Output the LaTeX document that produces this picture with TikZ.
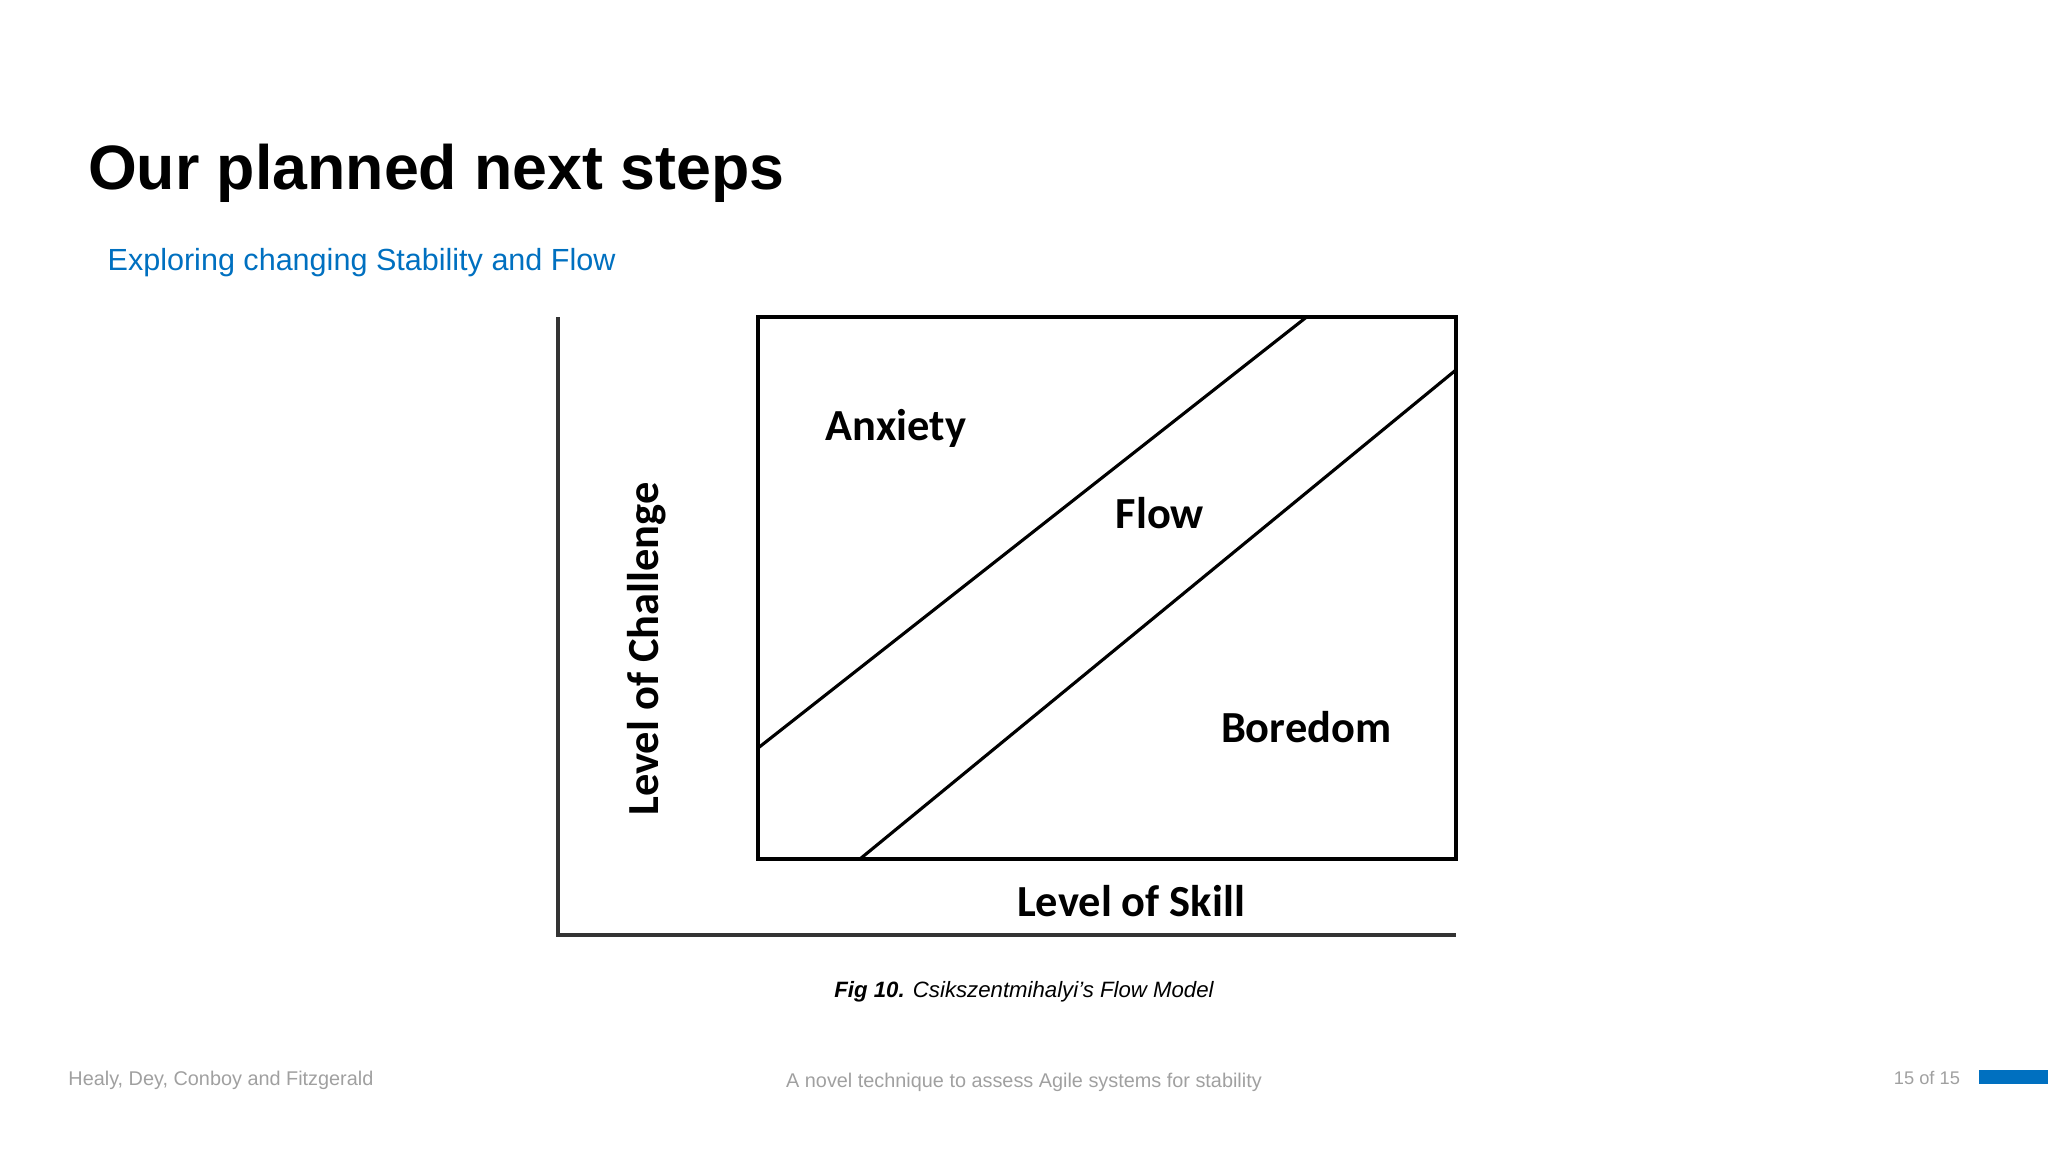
\documentclass[tikz,border=0pt]{standalone}
\usepackage{fontspec}
\setmainfont{Liberation Sans}
\newfontfamily\carlitofont{Carlito}
\definecolor{accent}{RGB}{0,112,192}
\definecolor{foot}{RGB}{160,160,160}
\begin{document}
\begin{tikzpicture}[x=0.5pt,y=-0.5pt,
  lbl/.style={font=\carlitofont\bfseries\fontsize{17}{20}\selectfont,inner sep=0},
  ft/.style={font=\fontsize{7.6}{9}\selectfont,text=foot,inner sep=0}]
\useasboundingbox (0,0) rectangle (1568,882);
\node[anchor=west,inner sep=0,font=\bfseries\fontsize{24}{28}\selectfont] (title) at (67,133) {Our planned next steps};
\node[anchor=west,inner sep=0,text=accent,font=\fontsize{11.7}{14}\selectfont] (sub) at (82,201) {Exploring changing Stability and Flow};
\coordinate (ytop) at (427,243); \coordinate (orig) at (427,716); \coordinate (xend) at (1115,716);
\draw[line width=1.5pt,black!80] (ytop) -- (orig) -- (xend);
\draw[line width=1.5pt] (580,243) rectangle (1115,658);
\coordinate (a1) at (580,573); \coordinate (a2) at (1000,243);
\coordinate (b1) at (658,658); \coordinate (b2) at (1115,283);
\draw[line width=1.2pt] (a1) -- (a2);
\draw[line width=1.2pt] (b1) -- (b2);
\node[lbl] (anx) at (686,328) {Anxiety};
\node[lbl] (flow) at (888,393) {Flow};
\node[lbl] (bor) at (1000,557) {Boredom};
\node[lbl] (skill) at (866,690) {Level of Skill};
\node[lbl,rotate=90] (chal) at (495,497) {Level of Challenge};
\node[inner sep=0,font=\itshape\fontsize{8.5}{10}\selectfont] (cap) at (784,759) {\textbf{Fig 10.} Csikszentmihalyi’s Flow Model};
\node[ft,anchor=west] (f1) at (52,827) {Healy, Dey, Conboy and Fitzgerald};
\node[ft] (f2) at (784,829) {A novel technique to assess Agile systems for stability};
\node[ft,anchor=east,font=\fontsize{7}{9}\selectfont] (f3) at (1501,825) {15 of 15};
\fill[accent] (1515,819) rectangle (1568,830);
\end{tikzpicture}
\end{document}
